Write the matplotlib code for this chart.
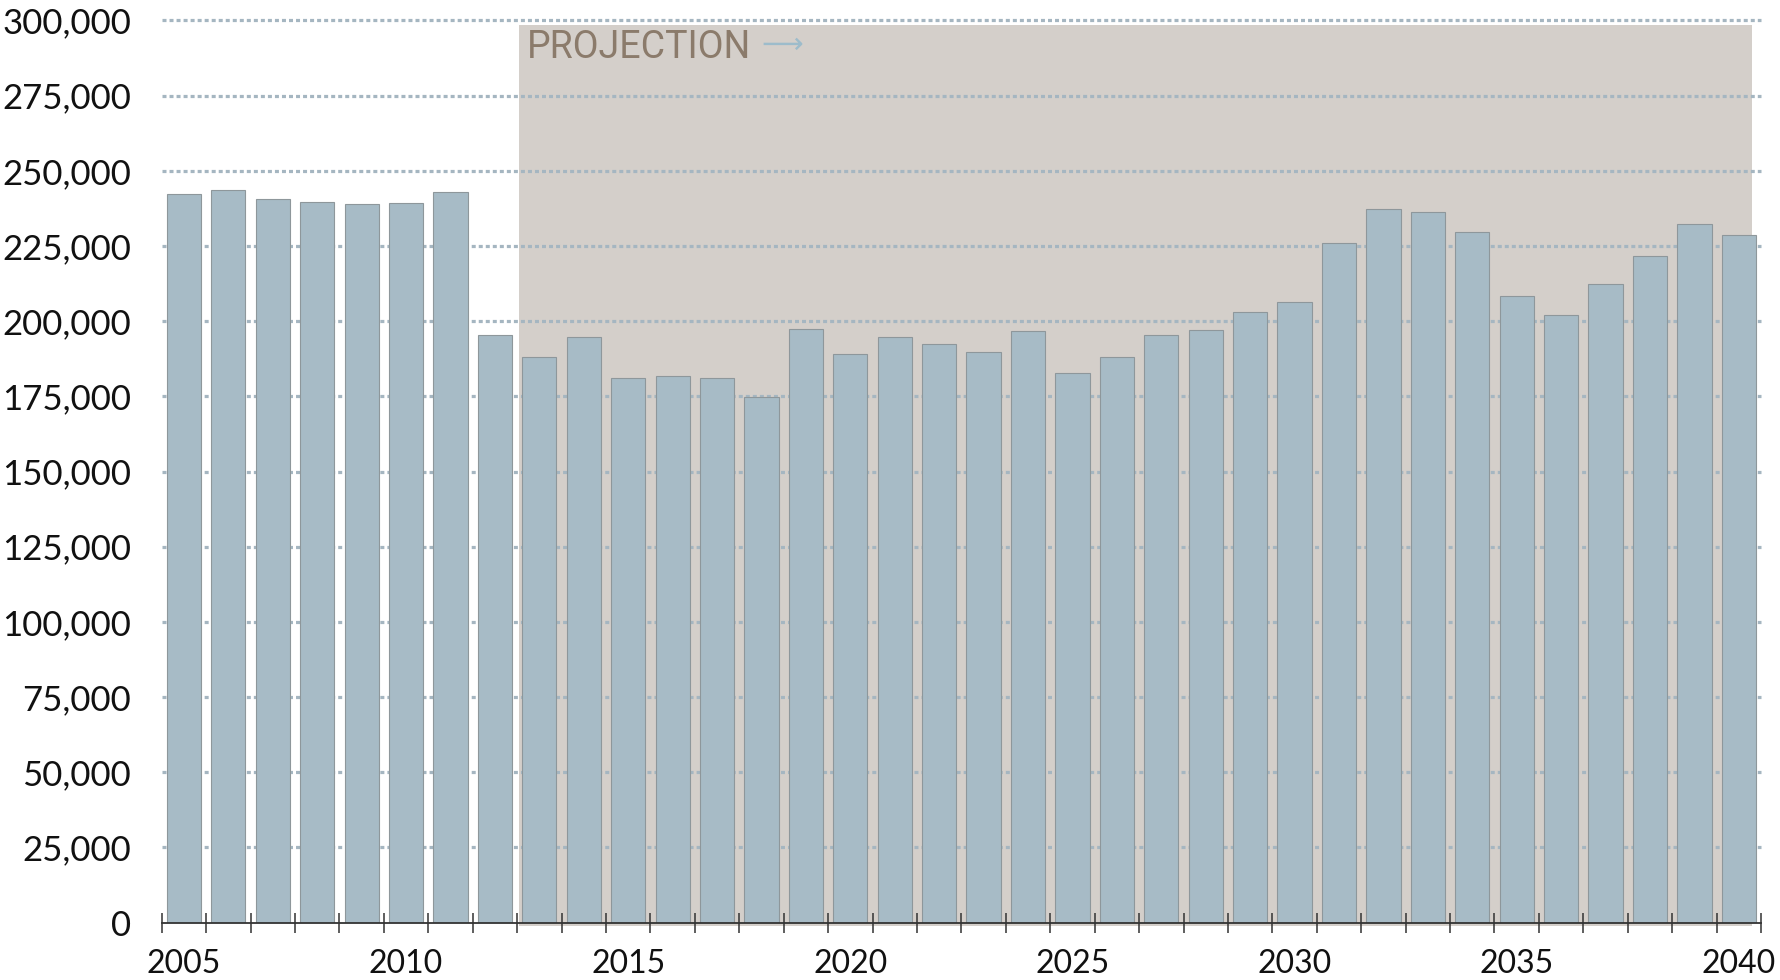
import matplotlib
matplotlib.use('Agg')
import matplotlib.pyplot as plt
from matplotlib.patches import Rectangle
from matplotlib.ticker import FuncFormatter

plt.rcParams['font.family'] = ['Lato', 'DejaVu Sans']

years = list(range(2005, 2041))
values = [242200, 243500, 240600, 239600, 238900, 239200, 243100, 195500,
          188200, 194600, 181000, 181900, 181000, 174800, 197500, 189200,
          194600, 192500, 189600, 196800, 182900, 188200, 195400, 197100,
          203100, 206400, 225900, 237200, 236200, 229500, 208500, 202200,
          212300, 221700, 232400, 228500]
year_labels = [2005, 2010, 2015, 2020, 2025, 2030, 2035, 2040]
y_ticks = list(range(0, 300001, 25000))
projection_start = 2012.55
projection_end = 2040.3

fig = plt.figure(figsize=(17.81, 9.80), dpi=100)
ax = fig.add_axes([0.0908, 0.0585, 0.8980, 0.9207])

# projection band, a bit past the axis line
ax.add_patch(Rectangle((projection_start, -1100), projection_end - projection_start, 299600,
                       facecolor='#d4cfca', edgecolor='none', zorder=0, clip_on=False))

# dotted grid
ax.hlines(y_ticks[1:], 2004.5, 2040.5, colors='#a5b6c1', linewidth=2.3,
          linestyles=(0, (1.25, 0.95)), zorder=1, clip_on=False)

ax.bar(years, values, width=0.77, color='#a7bbc6', edgecolor='#8e979b',
       linewidth=0.8, zorder=2)

ax.set_xlim(2004.5, 2040.5)
ax.set_ylim(0, 300000)

for s in ['top', 'right', 'left']:
    ax.spines[s].set_visible(False)
ax.spines['bottom'].set_color('#333333')
ax.spines['bottom'].set_linewidth(1.3)
ax.spines['bottom'].set_zorder(3)

ax.set_xticks([y - 0.5 for y in years] + [2040.5])
ax.set_xticklabels([])
ax.tick_params(axis='x', which='major', direction='inout', length=15, width=1.1, color='#333333')
ax.set_xticks(year_labels, minor=True)
ax.set_xticklabels([str(y) for y in year_labels], minor=True)
ax.tick_params(axis='x', which='minor', length=0, pad=19, labelsize=23, labelcolor='#111111')

ax.set_yticks(y_ticks)
ax.yaxis.set_major_formatter(FuncFormatter(lambda v, p: format(int(v), ',')))
ax.tick_params(axis='y', length=0, pad=22, labelsize=25, labelcolor='#111111')

ax.text(2012.72, 287500, 'PROJECTION', family=['Roboto', 'DejaVu Sans'], fontweight='normal',
        fontsize=27, color='#8b7b6b', va='baseline', ha='left', zorder=4)
ax.text(2018.0, 291800, '\u27f6', family=['DejaVu Sans'], fontsize=21,
        color='#9dbccb', va='center', ha='left', zorder=4)

plt.savefig('out.png', dpi=100)
